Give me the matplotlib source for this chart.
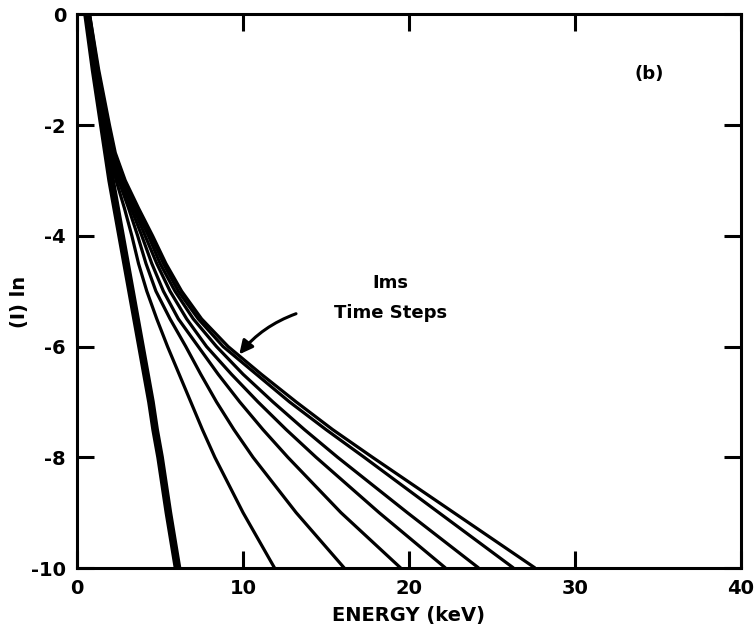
import matplotlib
matplotlib.use("Agg")
import matplotlib.pyplot as plt
from matplotlib.patches import FancyArrowPatch

# y levels (ln I) at which the x (energy, keV) of each curve was read
y_levels = [0, -1, -2, -2.5, -3, -3.5, -4, -4.5, -5, -5.5, -6, -6.5, -7, -7.5, -8, -9, -10]

# thick initial-spectrum curve
x_thick = [0.6, 1.05, 1.55, 1.8, 2.05, 2.35, 2.65, 2.95, 3.25, 3.55, 3.85, 4.15, 4.45, 4.7, 5.0, 5.5, 6.05]

# 1 ms time-step curves
x_c1 = [0.65, 1.1, 1.65, 2.0, 2.35, 2.85, 3.3, 3.7, 4.2, 4.8, 5.45, 6.15, 6.85, 7.55, 8.3, 10.0, 11.9]
x_c2 = [0.65, 1.15, 1.7, 2.05, 2.5, 3.1, 3.65, 4.15, 4.75, 5.6, 6.55, 7.45, 8.4, 9.45, 10.6, 13.2, 16.1]
x_c3 = [0.7, 1.2, 1.75, 2.1, 2.6, 3.25, 3.9, 4.5, 5.2, 6.1, 7.3, 8.5, 9.8, 11.2, 12.7, 15.9, 19.5]
x_c4 = [0.7, 1.2, 1.8, 2.15, 2.7, 3.4, 4.1, 4.8, 5.6, 6.6, 7.8, 9.3, 10.9, 12.6, 14.4, 18.2, 22.2]
x_c5 = [0.7, 1.25, 1.85, 2.2, 2.75, 3.5, 4.3, 5.0, 5.9, 7.0, 8.4, 10.0, 11.8, 13.7, 15.7, 19.9, 24.2]
x_c6 = [0.75, 1.25, 1.9, 2.25, 2.85, 3.6, 4.45, 5.2, 6.1, 7.3, 8.8, 10.8, 12.8, 15.0, 17.3, 21.8, 26.3]
x_c7 = [0.75, 1.3, 1.95, 2.3, 2.9, 3.7, 4.55, 5.35, 6.3, 7.5, 9.1, 11.1, 13.2, 15.4, 17.8, 22.7, 27.6]
thin_curves = [x_c1, x_c2, x_c3, x_c4, x_c5, x_c6, x_c7]

x_ticks = [0, 10, 20, 30, 40]
y_ticks = [0, -2, -4, -6, -8, -10]

plt.rcParams['font.family'] = ['DejaVu Sans']
plt.rcParams['font.weight'] = 'bold'

fig = plt.figure(figsize=(7.56, 6.4), dpi=100)
ax = fig.add_axes([0.102, 0.1125, 0.878, 0.865])

ax.plot(x_thick, y_levels, color='black', lw=5.5, solid_joinstyle='round',
        solid_capstyle='butt')
for xc in thin_curves:
    ax.plot(xc, y_levels, color='black', lw=2.3, solid_joinstyle='round',
            solid_capstyle='butt')

ax.set_xlim(0, 40)
ax.set_ylim(-10, 0)
ax.set_xticks(x_ticks)
ax.set_yticks(y_ticks)
ax.set_xticklabels([str(v) for v in x_ticks])
ax.set_yticklabels([str(v) for v in y_ticks])
ax.tick_params(direction='in', length=12, width=2.2, top=True, right=True,
               labelsize=14, pad=8)
for s in ax.spines.values():
    s.set_linewidth(2.2)

ax.set_xlabel('ENERGY (keV)', fontsize=14, fontweight='bold', labelpad=6)
ax.set_ylabel('(I) ln', fontsize=14, fontweight='bold')
ax.yaxis.set_label_coords(-0.072, 0.48)

ax.text(34.5, -1.08, '(b)', fontsize=13, fontweight='bold', ha='center', va='center')
ax.text(18.9, -4.85, 'Ims', fontsize=13, fontweight='bold', ha='center', va='center')
ax.text(18.9, -5.4, 'Time Steps', fontsize=13, fontweight='bold', ha='center', va='center')

arr = FancyArrowPatch((13.35, -5.39), (9.67, -6.18), arrowstyle='-|>,head_length=8,head_width=4',
                      connectionstyle='arc3,rad=0.15', color='black', lw=2.2)
ax.add_patch(arr)

fig.savefig('out.png', dpi=100)
